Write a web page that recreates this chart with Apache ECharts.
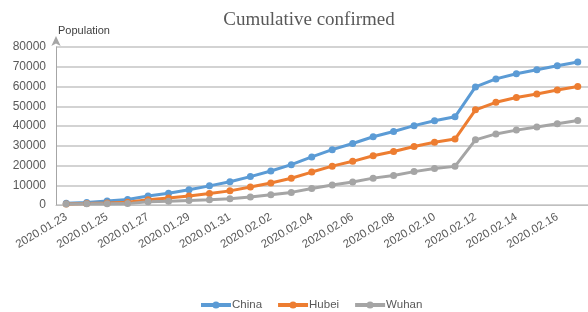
<html>
<head>
    <meta charset="utf-8">
    <script src="https://cdn.jsdelivr.net/npm/echarts@6/dist/echarts.min.js"></script>
    <style>
        html, body, #main {
            width: 100%;
            height: 100%;
            margin: 0;
            background: #fff;
        }
    </style>
</head>
<body>
<div id="main"></div>
<script>
    var dates = ['2020.01.23', '2020.01.24', '2020.01.25', '2020.01.26', '2020.01.27', '2020.01.28',
        '2020.01.29', '2020.01.30', '2020.01.31', '2020.02.01', '2020.02.02', '2020.02.03',
        '2020.02.04', '2020.02.05', '2020.02.06', '2020.02.07', '2020.02.08', '2020.02.09',
        '2020.02.10', '2020.02.11', '2020.02.12', '2020.02.13', '2020.02.14', '2020.02.15',
        '2020.02.16', '2020.02.17'];

    var china = [830, 1287, 1975, 2744, 4515, 5974, 7711, 9692, 11791, 14380, 17205, 20438,
        24324, 28018, 31161, 34546, 37198, 40171, 42638, 44653, 59804, 63851, 66492, 68500,
        70548, 72436];

    var hubei = [549, 729, 1052, 1423, 2714, 3554, 4586, 5806, 7153, 9074, 11177, 13522,
        16678, 19665, 22112, 24953, 27100, 29631, 31728, 33366, 48206, 51986, 54406, 56249,
        58182, 59989];

    var wuhan = [495, 572, 618, 698, 1590, 1905, 2261, 2639, 3215, 4109, 5142, 6384,
        8351, 10117, 11618, 13603, 14982, 16902, 18454, 19558, 32994, 35991, 37914, 39462,
        41152, 42752];

    var chart = echarts.init(document.getElementById('main'));

    function line(name, data, color) {
        return {
            name: name,
            type: 'line',
            data: data,
            symbol: 'circle',
            symbolSize: 7,
            lineStyle: {width: 3, color: color},
            itemStyle: {color: color}
        };
    }

    chart.setOption({
        animation: false,
        color: ['#5b9bd5', '#ed7d31', '#a5a5a5'],
        title: {
            text: 'Cumulative confirmed',
            left: 304,
            textAlign: 'center',
            top: 6,
            textStyle: {
                fontFamily: 'Liberation Serif',
                fontWeight: 'normal',
                fontSize: 19,
                color: '#595959'
            }
        },
        legend: {
            top: 294,
            left: 194,
            itemWidth: 30,
            itemHeight: 9,
            itemGap: 14,
            lineStyle: {width: 4},
            textStyle: {fontFamily: 'Liberation Sans', fontSize: 11.5, color: '#595959', padding: [0, 0, 0, -4]},
            data: ['China', 'Hubei', 'Wuhan']
        },
        grid: {left: 56, right: 0, top: 47, bottom: 107},
        xAxis: {
            type: 'category',
            data: dates,
            boundaryGap: true,
            axisLine: {lineStyle: {color: '#bfbfbf'}},
            axisTick: {show: false},
            axisLabel: {
                interval: 1,
                rotate: 31,
                fontFamily: 'Liberation Sans',
                fontSize: 11.5,
                color: '#595959',
                margin: 11
            }
        },
        yAxis: {
            type: 'value',
            min: 0,
            max: 80000,
            interval: 10000,
            name: 'Population',
            nameGap: 11,
            nameTextStyle: {
                fontFamily: 'Liberation Sans',
                fontSize: 11,
                color: '#404040',
                align: 'left',
                padding: [0, 0, 0, 2]
            },
            axisLine: {
                show: true,
                symbol: ['none', 'arrow'],
                symbolSize: [7, 10],
                symbolOffset: [0, 11],
                lineStyle: {color: '#a6a6a6', width: 1}
            },
            axisTick: {show: false},
            axisLabel: {
                formatter: function (v) {
                    return String(v);
                },
                fontFamily: 'Liberation Sans',
                fontSize: 12,
                color: '#595959',
                margin: 10
            },
            splitLine: {lineStyle: {color: '#c4c4c4', width: 1.5}}
        },
        series: [
            line('China', china, '#5b9bd5'),
            line('Hubei', hubei, '#ed7d31'),
            line('Wuhan', wuhan, '#a5a5a5')
        ]
    });
</script>
</body>
</html>
